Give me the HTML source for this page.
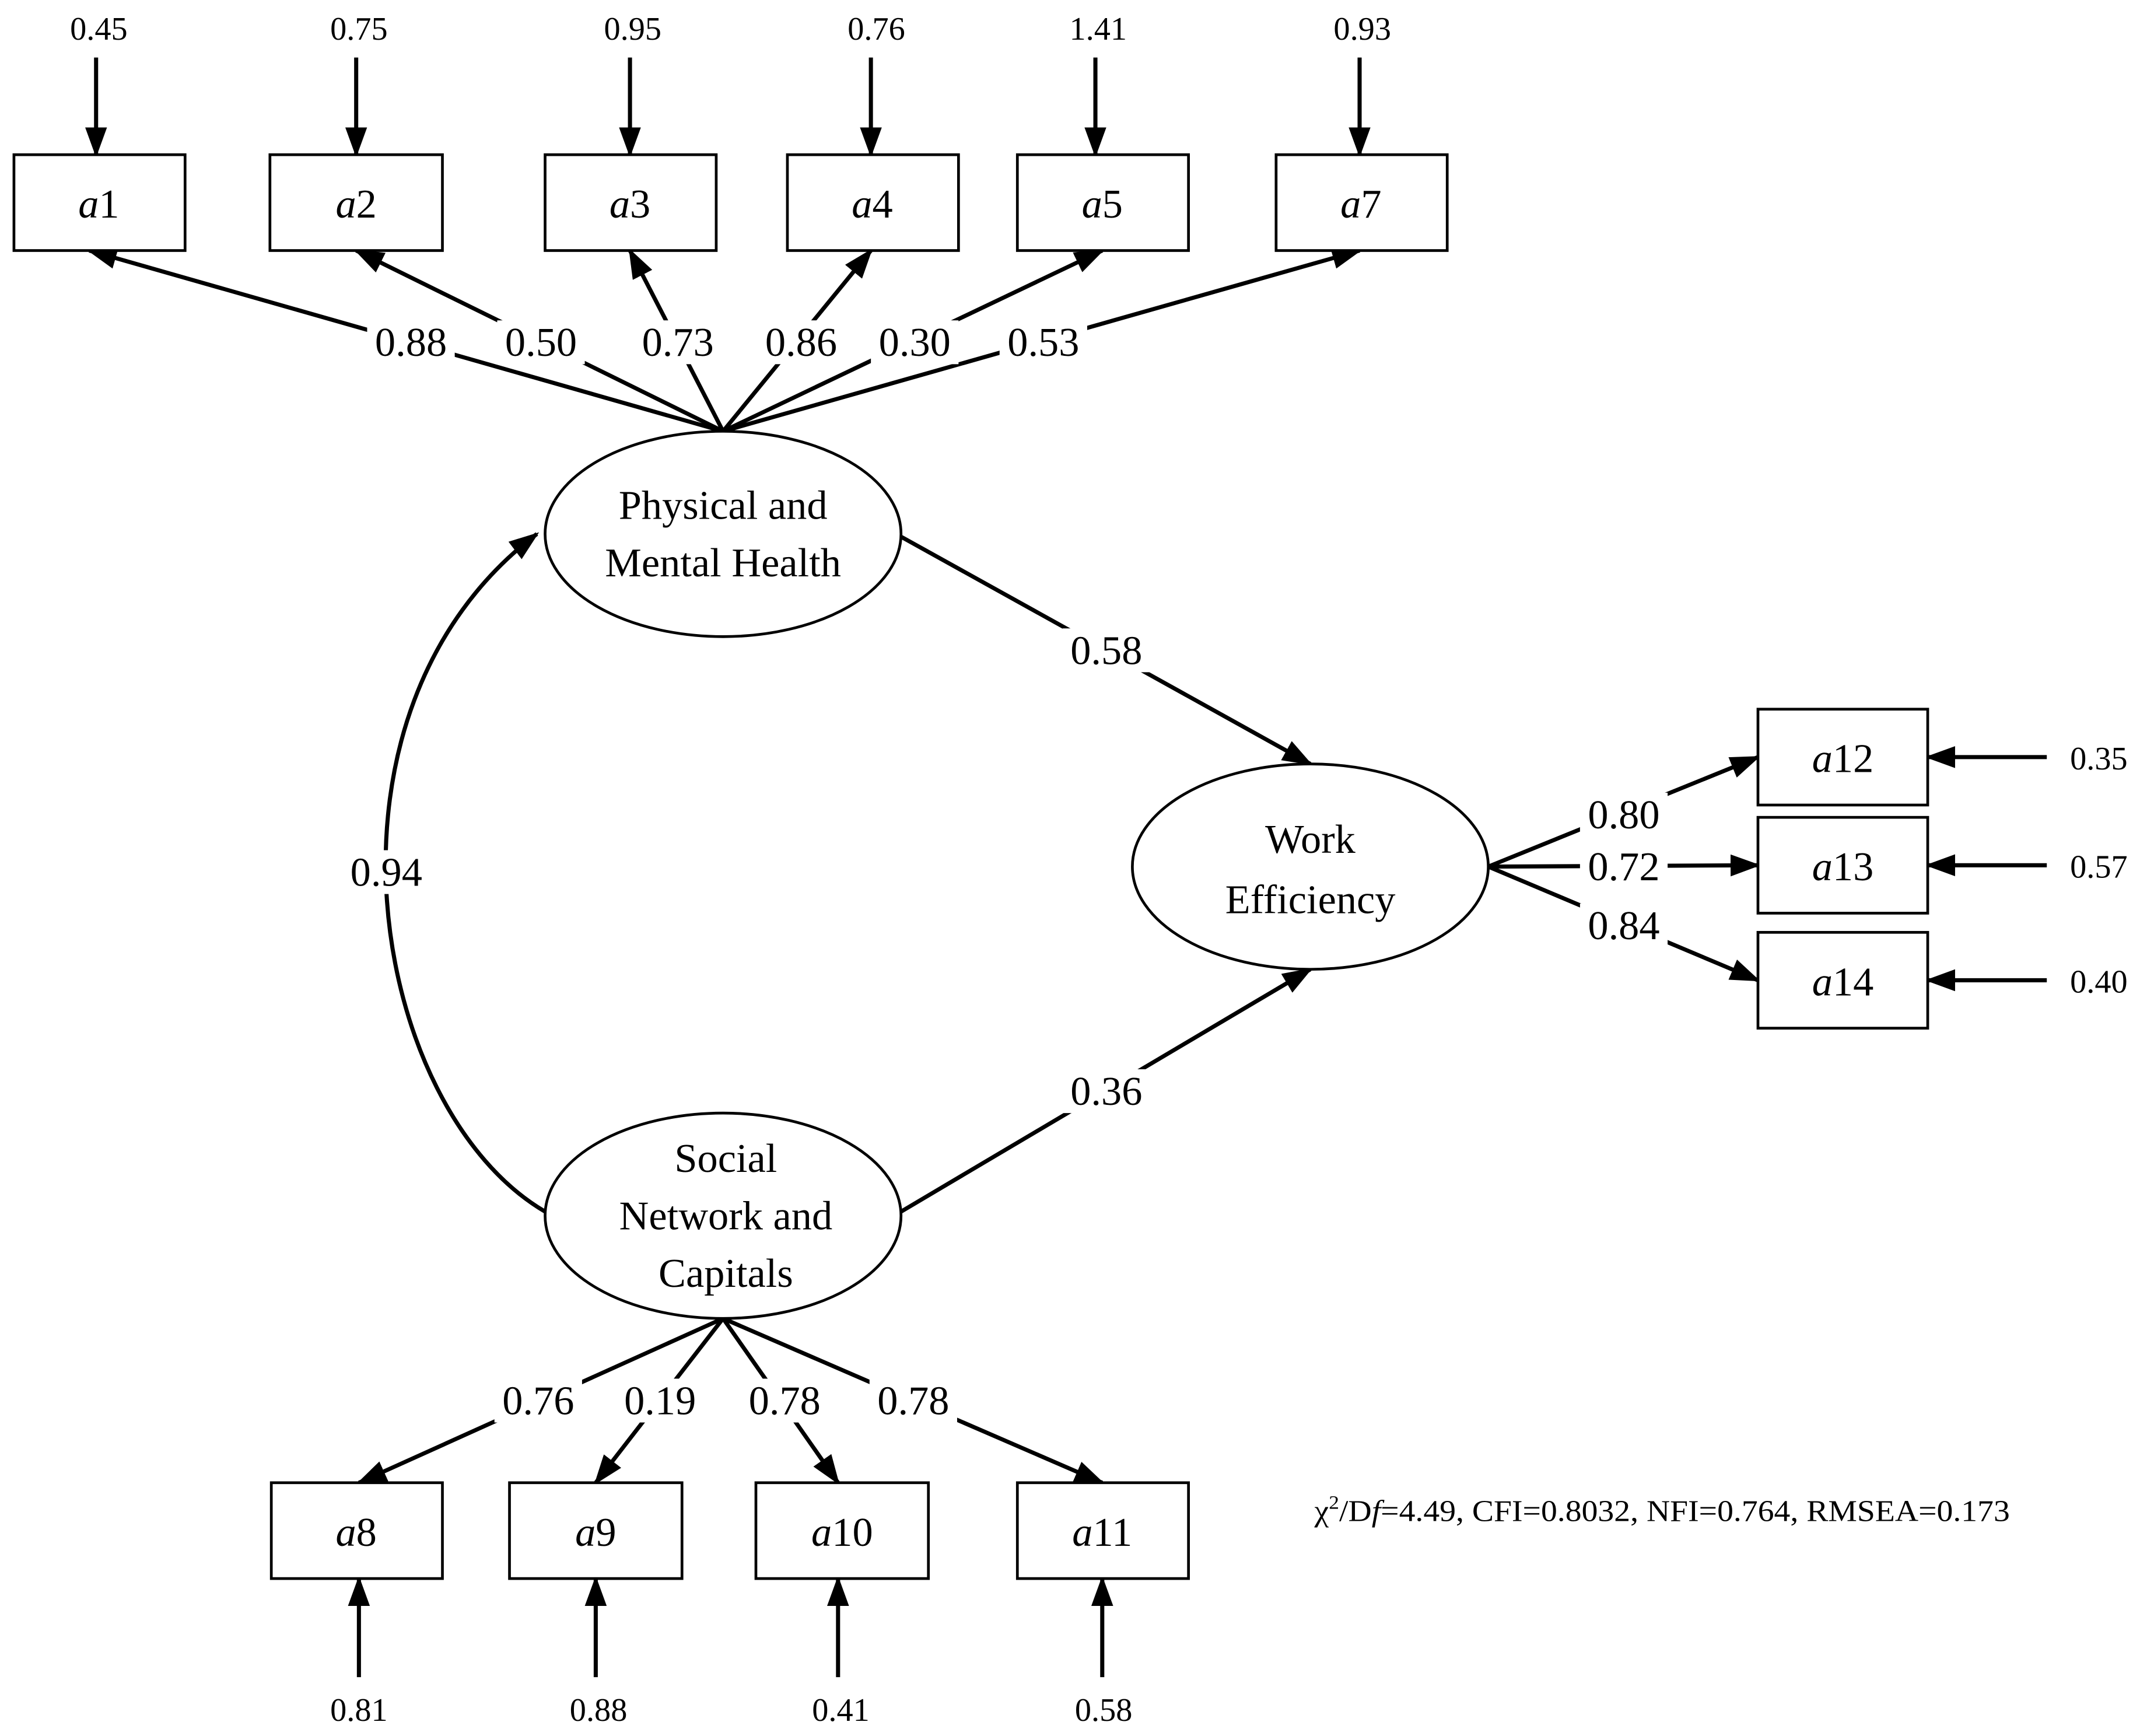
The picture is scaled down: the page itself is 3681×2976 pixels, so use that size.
<!DOCTYPE html>
<html><head><meta charset="utf-8"><style>
html,body{margin:0;padding:0;background:#fff;}
svg{display:block;}
text{font-family:"Liberation Serif",serif;fill:#000;}
</style></head><body>
<svg width="3681" height="2976" viewBox="0 0 1568 1268" xmlns="http://www.w3.org/2000/svg">
<defs>
<marker id="ah2" markerWidth="22" markerHeight="16" refX="20" refY="8" orient="auto" markerUnits="userSpaceOnUse" viewBox="0 0 22 16">
<path d="M0,0 L22,8 L0,16 z" fill="#000"/>
</marker>
</defs>
<rect width="1568" height="1268" fill="#fff"/>
<g stroke="#000" stroke-width="3" fill="none">
<line x1="528" y1="315" x2="65" y2="183" marker-end="url(#ah2)"/>
<line x1="528" y1="315" x2="260" y2="183" marker-end="url(#ah2)"/>
<line x1="528" y1="315" x2="460" y2="183" marker-end="url(#ah2)"/>
<line x1="528" y1="315" x2="636" y2="183" marker-end="url(#ah2)"/>
<line x1="528" y1="315" x2="805" y2="183" marker-end="url(#ah2)"/>
<line x1="528" y1="315" x2="993" y2="183" marker-end="url(#ah2)"/>
<line x1="70" y1="42" x2="70" y2="113" marker-end="url(#ah2)"/>
<line x1="260" y1="42" x2="260" y2="113" marker-end="url(#ah2)"/>
<line x1="460" y1="42" x2="460" y2="113" marker-end="url(#ah2)"/>
<line x1="636" y1="42" x2="636" y2="113" marker-end="url(#ah2)"/>
<line x1="800" y1="42" x2="800" y2="113" marker-end="url(#ah2)"/>
<line x1="993" y1="42" x2="993" y2="113" marker-end="url(#ah2)"/>
<line x1="658" y1="392" x2="957" y2="558" marker-end="url(#ah2)"/>
<line x1="658" y1="885" x2="957" y2="708" marker-end="url(#ah2)"/>
<path d="M398,885 C270,810 220,520 392,390" marker-end="url(#ah2)"/>
<line x1="1087" y1="633" x2="1284" y2="553" marker-end="url(#ah2)"/>
<line x1="1087" y1="633" x2="1284" y2="632" marker-end="url(#ah2)"/>
<line x1="1087" y1="633" x2="1284" y2="716" marker-end="url(#ah2)"/>
<line x1="1495" y1="553" x2="1408" y2="553" marker-end="url(#ah2)"/>
<line x1="1495" y1="632" x2="1408" y2="632" marker-end="url(#ah2)"/>
<line x1="1495" y1="716" x2="1408" y2="716" marker-end="url(#ah2)"/>
<line x1="528" y1="963" x2="262" y2="1083" marker-end="url(#ah2)"/>
<line x1="528" y1="963" x2="435" y2="1083" marker-end="url(#ah2)"/>
<line x1="528" y1="963" x2="612" y2="1083" marker-end="url(#ah2)"/>
<line x1="528" y1="963" x2="805" y2="1083" marker-end="url(#ah2)"/>
<line x1="262" y1="1225" x2="262" y2="1153" marker-end="url(#ah2)"/>
<line x1="435" y1="1225" x2="435" y2="1153" marker-end="url(#ah2)"/>
<line x1="612" y1="1225" x2="612" y2="1153" marker-end="url(#ah2)"/>
<line x1="805" y1="1225" x2="805" y2="1153" marker-end="url(#ah2)"/>
</g>
<g stroke="#000" stroke-width="2" fill="#fff">
<rect x="10" y="113" width="125" height="70"/>
<rect x="197" y="113" width="126" height="70"/>
<rect x="398" y="113" width="125" height="70"/>
<rect x="575" y="113" width="125" height="70"/>
<rect x="743" y="113" width="125" height="70"/>
<rect x="932" y="113" width="125" height="70"/>
<rect x="1284" y="518" width="124" height="70"/>
<rect x="1284" y="597" width="124" height="70"/>
<rect x="1284" y="681" width="124" height="70"/>
<rect x="198" y="1083" width="125" height="70"/>
<rect x="372" y="1083" width="126" height="70"/>
<rect x="552" y="1083" width="126" height="70"/>
<rect x="743" y="1083" width="125" height="70"/>
<ellipse cx="528" cy="390" rx="130" ry="75"/>
<ellipse cx="957" cy="633" rx="130" ry="75"/>
<ellipse cx="528" cy="888" rx="130" ry="75"/>
</g>
<g fill="#fff">
<rect x="268" y="234" width="64" height="32"/>
<rect x="363" y="234" width="64" height="32"/>
<rect x="463" y="234" width="64" height="32"/>
<rect x="553" y="234" width="64" height="32"/>
<rect x="636" y="234" width="64" height="32"/>
<rect x="730" y="234" width="64" height="32"/>
<rect x="776" y="459" width="64" height="32"/>
<rect x="776" y="781" width="64" height="32"/>
<rect x="250" y="621" width="64" height="32"/>
<rect x="1154" y="579" width="64" height="32"/>
<rect x="1154" y="618" width="64" height="30"/>
<rect x="1154" y="660" width="64" height="32"/>
<rect x="361" y="1007" width="64" height="32"/>
<rect x="450" y="1007" width="64" height="32"/>
<rect x="541" y="1007" width="64" height="32"/>
<rect x="635" y="1007" width="64" height="32"/>
</g>
<g font-size="30" text-anchor="middle">
<text x="72" y="159"><tspan font-style="italic">a</tspan>1</text>
<text x="260" y="159"><tspan font-style="italic">a</tspan>2</text>
<text x="460" y="159"><tspan font-style="italic">a</tspan>3</text>
<text x="637" y="159"><tspan font-style="italic">a</tspan>4</text>
<text x="805" y="159"><tspan font-style="italic">a</tspan>5</text>
<text x="994" y="159"><tspan font-style="italic">a</tspan>7</text>
<text x="1346" y="564"><tspan font-style="italic">a</tspan>12</text>
<text x="1346" y="643"><tspan font-style="italic">a</tspan>13</text>
<text x="1346" y="727"><tspan font-style="italic">a</tspan>14</text>
<text x="260" y="1129"><tspan font-style="italic">a</tspan>8</text>
<text x="435" y="1129"><tspan font-style="italic">a</tspan>9</text>
<text x="615" y="1129"><tspan font-style="italic">a</tspan>10</text>
<text x="805" y="1129"><tspan font-style="italic">a</tspan>11</text>
</g>
<g font-size="30" text-anchor="middle">
<text x="528" y="379">Physical and</text>
<text x="528" y="421">Mental Health</text>
<text x="957" y="623">Work</text>
<text x="957" y="667">Efficiency</text>
<text x="530" y="856">Social</text>
<text x="530" y="898">Network and</text>
<text x="530" y="940">Capitals</text>
</g>
<g font-size="30" text-anchor="middle">
<text x="300" y="260">0.88</text>
<text x="395" y="260">0.50</text>
<text x="495" y="260">0.73</text>
<text x="585" y="260">0.86</text>
<text x="668" y="260">0.30</text>
<text x="762" y="260">0.53</text>
<text x="808" y="485">0.58</text>
<text x="808" y="807">0.36</text>
<text x="282" y="647">0.94</text>
<text x="1186" y="605">0.80</text>
<text x="1186" y="643">0.72</text>
<text x="1186" y="686">0.84</text>
<text x="393" y="1033">0.76</text>
<text x="482" y="1033">0.19</text>
<text x="573" y="1033">0.78</text>
<text x="667" y="1033">0.78</text>
</g>
<g font-size="24" text-anchor="middle">
<text x="72" y="29">0.45</text>
<text x="262" y="29">0.75</text>
<text x="462" y="29">0.95</text>
<text x="640" y="29">0.76</text>
<text x="802" y="29">1.41</text>
<text x="995" y="29">0.93</text>
<text x="1533" y="562">0.35</text>
<text x="1533" y="641">0.57</text>
<text x="1533" y="725">0.40</text>
<text x="262" y="1257">0.81</text>
<text x="437" y="1257">0.88</text>
<text x="614" y="1257">0.41</text>
<text x="806" y="1257">0.58</text>
</g>
<text x="960" y="1111" font-size="22" textLength="508" lengthAdjust="spacingAndGlyphs">χ<tspan font-size="14" dy="-9">2</tspan><tspan dy="9">/D</tspan><tspan font-style="italic">f</tspan>=4.49, CFI=0.8032, NFI=0.764, RMSEA=0.173</text>
</svg>
</body></html>
